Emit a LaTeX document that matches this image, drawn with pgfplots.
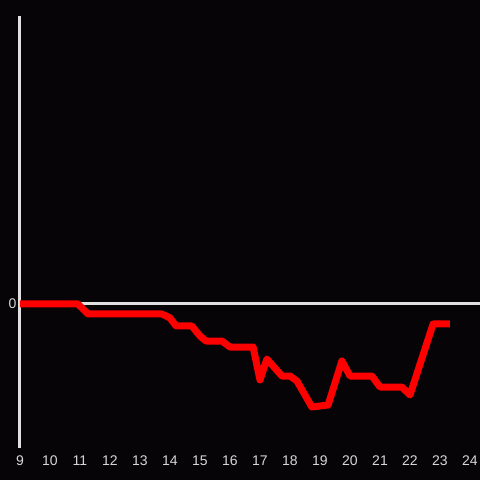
\documentclass[border=0pt]{standalone}
\usepackage{pgfplots}
\pgfplotsset{compat=1.18}
\usepackage{fontspec}
\setmainfont{Liberation Sans}
\definecolor{bg}{RGB}{6,4,7}
\definecolor{axc}{RGB}{224,224,224}
\definecolor{txt}{RGB}{215,215,215}
\begin{document}
\begin{tikzpicture}
\fill[bg] (-20pt,-32pt) rectangle (460pt,448pt);
\begin{axis}[
  scale only axis,
  width=460pt, height=432pt,
  xmin=9, xmax=24.3333,
  ymin=-144, ymax=288,
  axis lines*=left,
  x axis line style={draw=none},
  y axis line style={draw=axc, line width=3pt},
  xtick={9,10,...,24},
  ytick={0},
  major tick length=0pt,
  ymajorgrids,
  grid style={draw=axc, line width=3pt},
  tick label style={font=\fontsize{14}{16}\selectfont, text=txt},
  /pgf/number format/assume math mode=true,
  xticklabel style={yshift=-4pt},
  yticklabel style={xshift=0pt},
  clip=false,
]
\addplot[red, line width=7pt, line join=round] coordinates {
(9,0) (10.93,0) (11.27,-10) (13.73,-10) (14.0,-14) (14.2,-22) (14.73,-22)
(15.0,-32) (15.2,-37) (15.73,-37) (16.0,-43) (16.77,-43) (17.0,-76)
(17.23,-55) (17.73,-72) (18.0,-72) (18.23,-77) (18.73,-103) (19.27,-101)
(19.73,-57) (20.0,-72) (20.73,-72) (21.0,-83) (21.73,-83) (22.0,-91)
(22.77,-20) (23.33,-20)
};
\end{axis}
\pgfresetboundingbox
\path (-20pt,-32pt) rectangle (460pt,448pt);
\end{tikzpicture}
\end{document}
